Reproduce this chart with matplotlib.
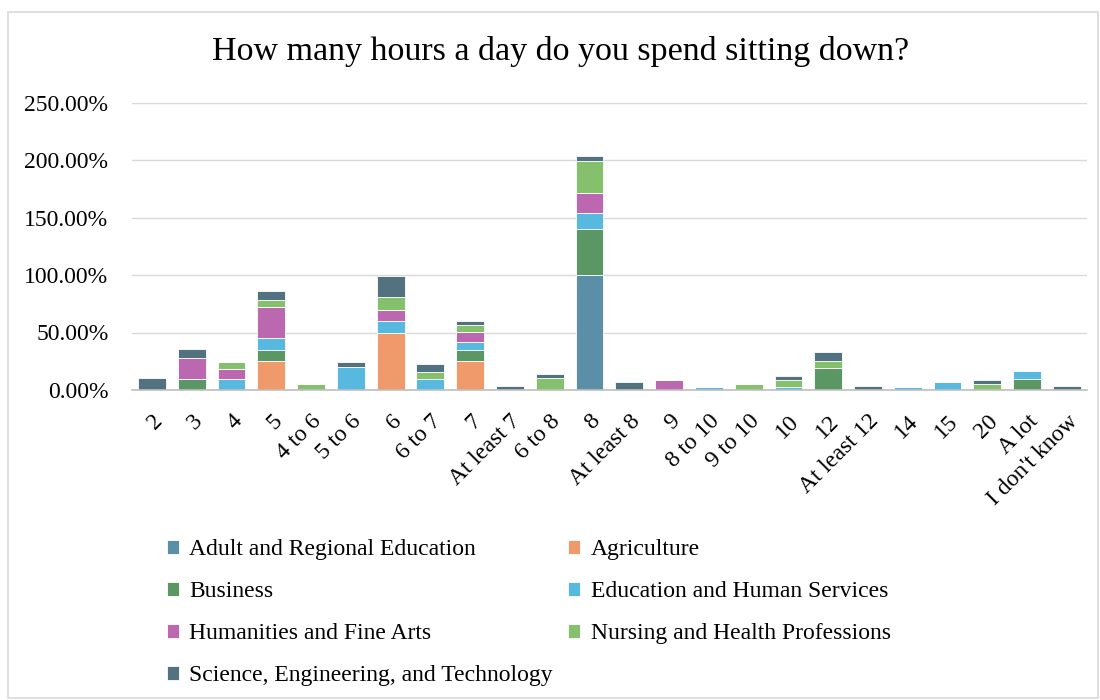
import numpy as np
import matplotlib.pyplot as plt
from matplotlib.patches import Rectangle
from matplotlib.ticker import FuncFormatter

plt.rcParams['font.family'] = ['Liberation Serif', 'DejaVu Serif']

categories = ["2", "3", "4", "5", "4 to 6", "5 to 6", "6", "6 to 7", "7", "At least 7",
              "6 to 8", "8", "At least 8", "9", "8 to 10", "9 to 10", "10", "12",
              "At least 12", "14", "15", "20", "A lot", "I don't know"]

# share of each college's respondents (%), one list per college
adult =      [0, 0, 0, 0, 0, 0, 0, 0, 0, 0, 0, 100, 0, 0, 0, 0, 0, 0, 0, 0, 0, 0, 0, 0]
agriculture = [0, 0, 0, 25, 0, 0, 50, 0, 25, 0, 0, 0, 0, 0, 0, 0, 0, 0, 0, 0, 0, 0, 0, 0]
business =   [0, 9.3, 0, 9.9, 0, 0, 0, 0, 9.6, 0, 0, 40, 0, 0, 0, 0, 0, 19.4, 0, 0, 0, 0, 9.3, 0]
education =  [0, 0, 9.6, 10.7, 0, 20, 10.2, 9.6, 7.3, 0, 0, 13.9, 0, 0, 2.6, 0, 2.6, 0, 0, 2.6, 6.7, 0, 7.3, 0]
humanities = [0, 18.3, 9.0, 27, 0, 0, 9.0, 0, 8.7, 0, 0, 18, 0, 8.3, 0, 0, 0, 0, 0, 0, 0, 0, 0, 0]
nursing =    [0, 0, 5.8, 5.8, 4.9, 0, 11.3, 5.8, 5.8, 0, 10.7, 27.9, 0, 0, 0, 4.9, 6.1, 5.8, 0, 0, 0, 4.9, 0, 0]
science =    [10.7, 7.8, 0, 7.5, 0, 4.1, 18.3, 7.5, 3.8, 3.2, 3.5, 3.8, 6.7, 0, 0, 0, 3.5, 7.5, 3.2, 0, 0, 3.8, 0, 3.2]

series = [
    ("Adult and Regional Education", adult, "#5B8FA8"),
    ("Agriculture", agriculture, "#F0996B"),
    ("Business", business, "#5B9764"),
    ("Education and Human Services", education, "#58B9E0"),
    ("Humanities and Fine Arts", humanities, "#BB68B1"),
    ("Nursing and Health Professions", nursing, "#85C16C"),
    ("Science, Engineering, and Technology", science, "#537280"),
]

fig = plt.figure(figsize=(11, 7), dpi=100)
fig.patches.append(Rectangle((8 / 1100, 2 / 700), 1090 / 1100, 686 / 700,
                             transform=fig.transFigure, fill=False,
                             edgecolor="#D9D9D9", linewidth=1.2))

ax = fig.add_axes([0.12, 0.443, 0.868, 0.41])
x = np.arange(len(categories))
bottom = np.zeros(len(categories))
handles = {}
for name, vals, color in series:
    v = np.array(vals) / 100.0
    b = ax.bar(x, v, width=0.7, bottom=bottom, color=color, edgecolor="white",
               linewidth=0.6, zorder=3, label=name)
    handles[name] = b
    bottom += v

ax.set_xlim(-0.5, len(categories) - 0.5)
ax.set_ylim(0, 2.5)
ax.set_yticks(np.arange(0, 2.51, 0.5))
ax.yaxis.set_major_formatter(FuncFormatter(lambda v, _: f"{v * 100:.2f}%"))
ax.grid(axis="y", color="#D9D9D9", linewidth=1, zorder=0)
for s in ["top", "right", "left"]:
    ax.spines[s].set_visible(False)
ax.spines["bottom"].set_color("#BFBFBF")
ax.spines["bottom"].set_linewidth(1.2)
ax.spines["bottom"].set_zorder(4)
ax.tick_params(axis="y", length=0, labelsize=17, pad=17)
ax.tick_params(axis="x", length=0, labelsize=17, pad=15)
ax.set_xticks(x)
ax.set_xticklabels(categories, rotation=45, ha="right", rotation_mode="anchor")

fig.text(0.51, 0.926, "How many hours a day do you spend sitting down?",
         ha="center", va="center", fontsize=24.5)

order = ["Adult and Regional Education", "Business", "Humanities and Fine Arts",
         "Science, Engineering, and Technology", "Agriculture",
         "Education and Human Services", "Nursing and Health Professions"]
fig.legend([handles[n] for n in order], order, ncol=2, loc="upper left",
           bbox_to_anchor=(0.143, 0.243), frameon=False, fontsize=17,
           handlelength=0.5, handleheight=0.5, handletextpad=0.45,
           columnspacing=0.65, labelspacing=0.89, borderaxespad=0)

fig.savefig("out.png", dpi=100, facecolor="white")
